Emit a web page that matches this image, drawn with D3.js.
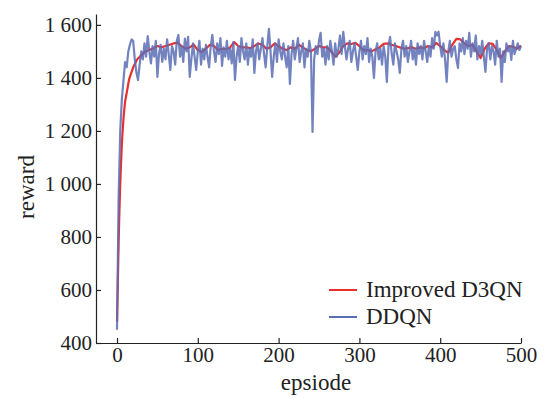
<!DOCTYPE html>
<html>
<head>
<meta charset="utf-8">
<script src="https://cdn.jsdelivr.net/npm/d3@7"></script>
<style>
    body { margin: 0; background: #fff; }
    svg { display: block; }
</style>
</head>
<body>
<svg width="545" height="398"></svg>
<script>
// x positions: red sampled every episode at the start, then every 5
const redEpisodes = d3.range(0, 10).concat(d3.range(10, 501, 5));
const blueEpisodes = d3.range(0, 501, 2);

const redValues = [
    480, 620, 780, 900, 1000, 1080, 1150, 1200, 1245, 1280,
    1310, 1395, 1440, 1470, 1485, 1500, 1505, 1512, 1520, 1515,
    1520, 1525, 1530, 1532, 1520, 1510, 1515, 1525, 1505, 1498,
    1510, 1525, 1520, 1505, 1510, 1508, 1515, 1535, 1520, 1515,
    1515, 1512, 1520, 1530, 1525, 1510, 1515, 1530, 1520, 1510,
    1505, 1515, 1510, 1525, 1515, 1505, 1500, 1510, 1520, 1515,
    1515, 1500, 1480, 1495, 1520, 1530, 1528, 1532, 1520, 1505,
    1505, 1500, 1508, 1515, 1528, 1530, 1525, 1520, 1515, 1510,
    1512, 1515, 1510, 1515, 1512, 1520, 1515, 1532, 1520, 1505,
    1495, 1525, 1547, 1545, 1530, 1520, 1525, 1500, 1475, 1510,
    1530, 1528, 1505, 1475, 1500, 1520, 1518, 1510, 1522
];

const blueValues = [
    450, 950, 1200, 1320, 1390, 1460, 1440, 1500, 1525, 1545,
    1540, 1470, 1420, 1392, 1450, 1500, 1470, 1530, 1480, 1558,
    1500, 1455, 1520, 1480, 1540, 1404, 1490, 1525, 1460, 1510,
    1470, 1545, 1490, 1430, 1520, 1500, 1450, 1540, 1562, 1480,
    1520, 1460, 1548, 1500, 1555, 1404, 1470, 1530, 1480, 1430,
    1500, 1540, 1450, 1510, 1470, 1525, 1480, 1440, 1520, 1562,
    1500, 1460, 1530, 1490, 1550, 1445, 1515, 1480, 1540, 1470,
    1510, 1455, 1535, 1392, 1480, 1520, 1460, 1550, 1500, 1470,
    1530, 1450, 1510, 1480, 1545, 1419, 1500, 1530, 1470, 1510,
    1550, 1490, 1440, 1520, 1585, 1500, 1404, 1480, 1530, 1460,
    1545, 1500, 1470, 1530, 1480, 1440, 1520, 1377, 1490, 1540,
    1470, 1510, 1550, 1460, 1500, 1530, 1440, 1510, 1480, 1540,
    1500, 1196, 1470, 1520, 1490, 1540, 1570, 1480, 1510, 1450,
    1520, 1470, 1540, 1500, 1450, 1530, 1480, 1510, 1560, 1490,
    1574, 1520, 1470, 1510, 1540, 1460, 1500, 1530, 1480, 1430,
    1500, 1540, 1470, 1520, 1490, 1550, 1460, 1510, 1480, 1400,
    1500, 1530, 1470, 1510, 1450, 1520, 1480, 1385, 1520, 1555,
    1490, 1450, 1530, 1500, 1470, 1419, 1510, 1540, 1480, 1520,
    1460, 1500, 1540, 1470, 1510, 1450, 1530, 1490, 1520, 1470,
    1540, 1500, 1460, 1520, 1480, 1550, 1510, 1574, 1560, 1574,
    1520, 1480, 1530, 1470, 1385, 1500, 1540, 1480, 1510, 1520,
    1470, 1438, 1530, 1500, 1550, 1490, 1540, 1510, 1570, 1480,
    1530, 1500, 1560, 1470, 1520, 1490, 1540, 1480, 1423, 1510,
    1530, 1470, 1520, 1500, 1450, 1540, 1480, 1510, 1385, 1500,
    1460, 1530, 1500, 1520, 1468, 1540, 1490, 1510, 1530, 1505,
    1520
];

const xTicks = [0, 100, 200, 300, 400, 500];
const yTicks = [400, 600, 800, 1000, 1200, 1400, 1600];
const seriesNames = ["Improved D3QN", "DDQN"];
const seriesColors = ["#e8302f", "#5b6db5"];

const svg = d3.select("svg");

const x = d3.scaleLinear().domain([-26, 500]).range([96, 521]);
const y = d3.scaleLinear().domain([400, 1641]).range([343, 14]);

const fmt = d3.formatLocale({ decimal: ".", thousands: " ", grouping: [3], currency: ["", ""] }).format(",");

// every label in the same Times-like face
function serifText(sel, size) {
    sel.style("font-family", "Liberation Serif")
        .style("font-size", size + "px")
        .style("fill", "#222");
}

// lines
const line = d3.line().x(d => x(d[0])).y(d => y(d[1]));

svg.append("path")
    .datum(d3.zip(redEpisodes, redValues))
    .attr("d", line)
    .attr("fill", "none")
    .attr("stroke", seriesColors[0])
    .attr("stroke-width", 2.2)
    .attr("stroke-linejoin", "round");

svg.append("path")
    .datum(d3.zip(blueEpisodes, blueValues))
    .attr("d", line)
    .attr("fill", "none")
    .attr("stroke", seriesColors[1])
    .attr("stroke-opacity", 0.85)
    .attr("stroke-width", 2.2)
    .attr("stroke-linejoin", "round");

// axes, ticks point inward
const xAxis = svg.append("g")
    .attr("transform", "translate(0,343)")
    .call(d3.axisBottom(x).tickValues(xTicks).tickSizeInner(-5).tickSizeOuter(0).tickPadding(4));

const yAxis = svg.append("g")
    .attr("transform", "translate(96,0)")
    .call(d3.axisLeft(y).tickValues(yTicks).tickFormat(fmt).tickSizeInner(-5).tickSizeOuter(0).tickPadding(4));

[xAxis, yAxis].forEach(g => {
    g.select(".domain").attr("stroke", "#222").attr("stroke-width", 1.2);
    g.selectAll(".tick line").attr("stroke", "#222").attr("stroke-width", 1.2);
    serifText(g.selectAll(".tick text"), 21);
});

// axis titles
svg.append("text")
    .attr("x", 316)
    .attr("y", 390)
    .attr("text-anchor", "middle")
    .text("epsiode")
    .call(serifText, 23);

svg.append("text")
    .attr("transform", "translate(34,187) rotate(-90)")
    .attr("text-anchor", "middle")
    .text("reward")
    .call(serifText, 23);

// legend
seriesNames.forEach((name, i) => {
    const ly = 290 + i * 27;
    svg.append("line")
        .attr("x1", 329).attr("x2", 357)
        .attr("y1", ly).attr("y2", ly)
        .attr("stroke", seriesColors[i])
        .attr("stroke-width", 2);
    svg.append("text")
        .attr("x", 366)
        .attr("y", ly + 7)
        .text(name)
        .call(serifText, 23);
});
</script>
</body>
</html>
